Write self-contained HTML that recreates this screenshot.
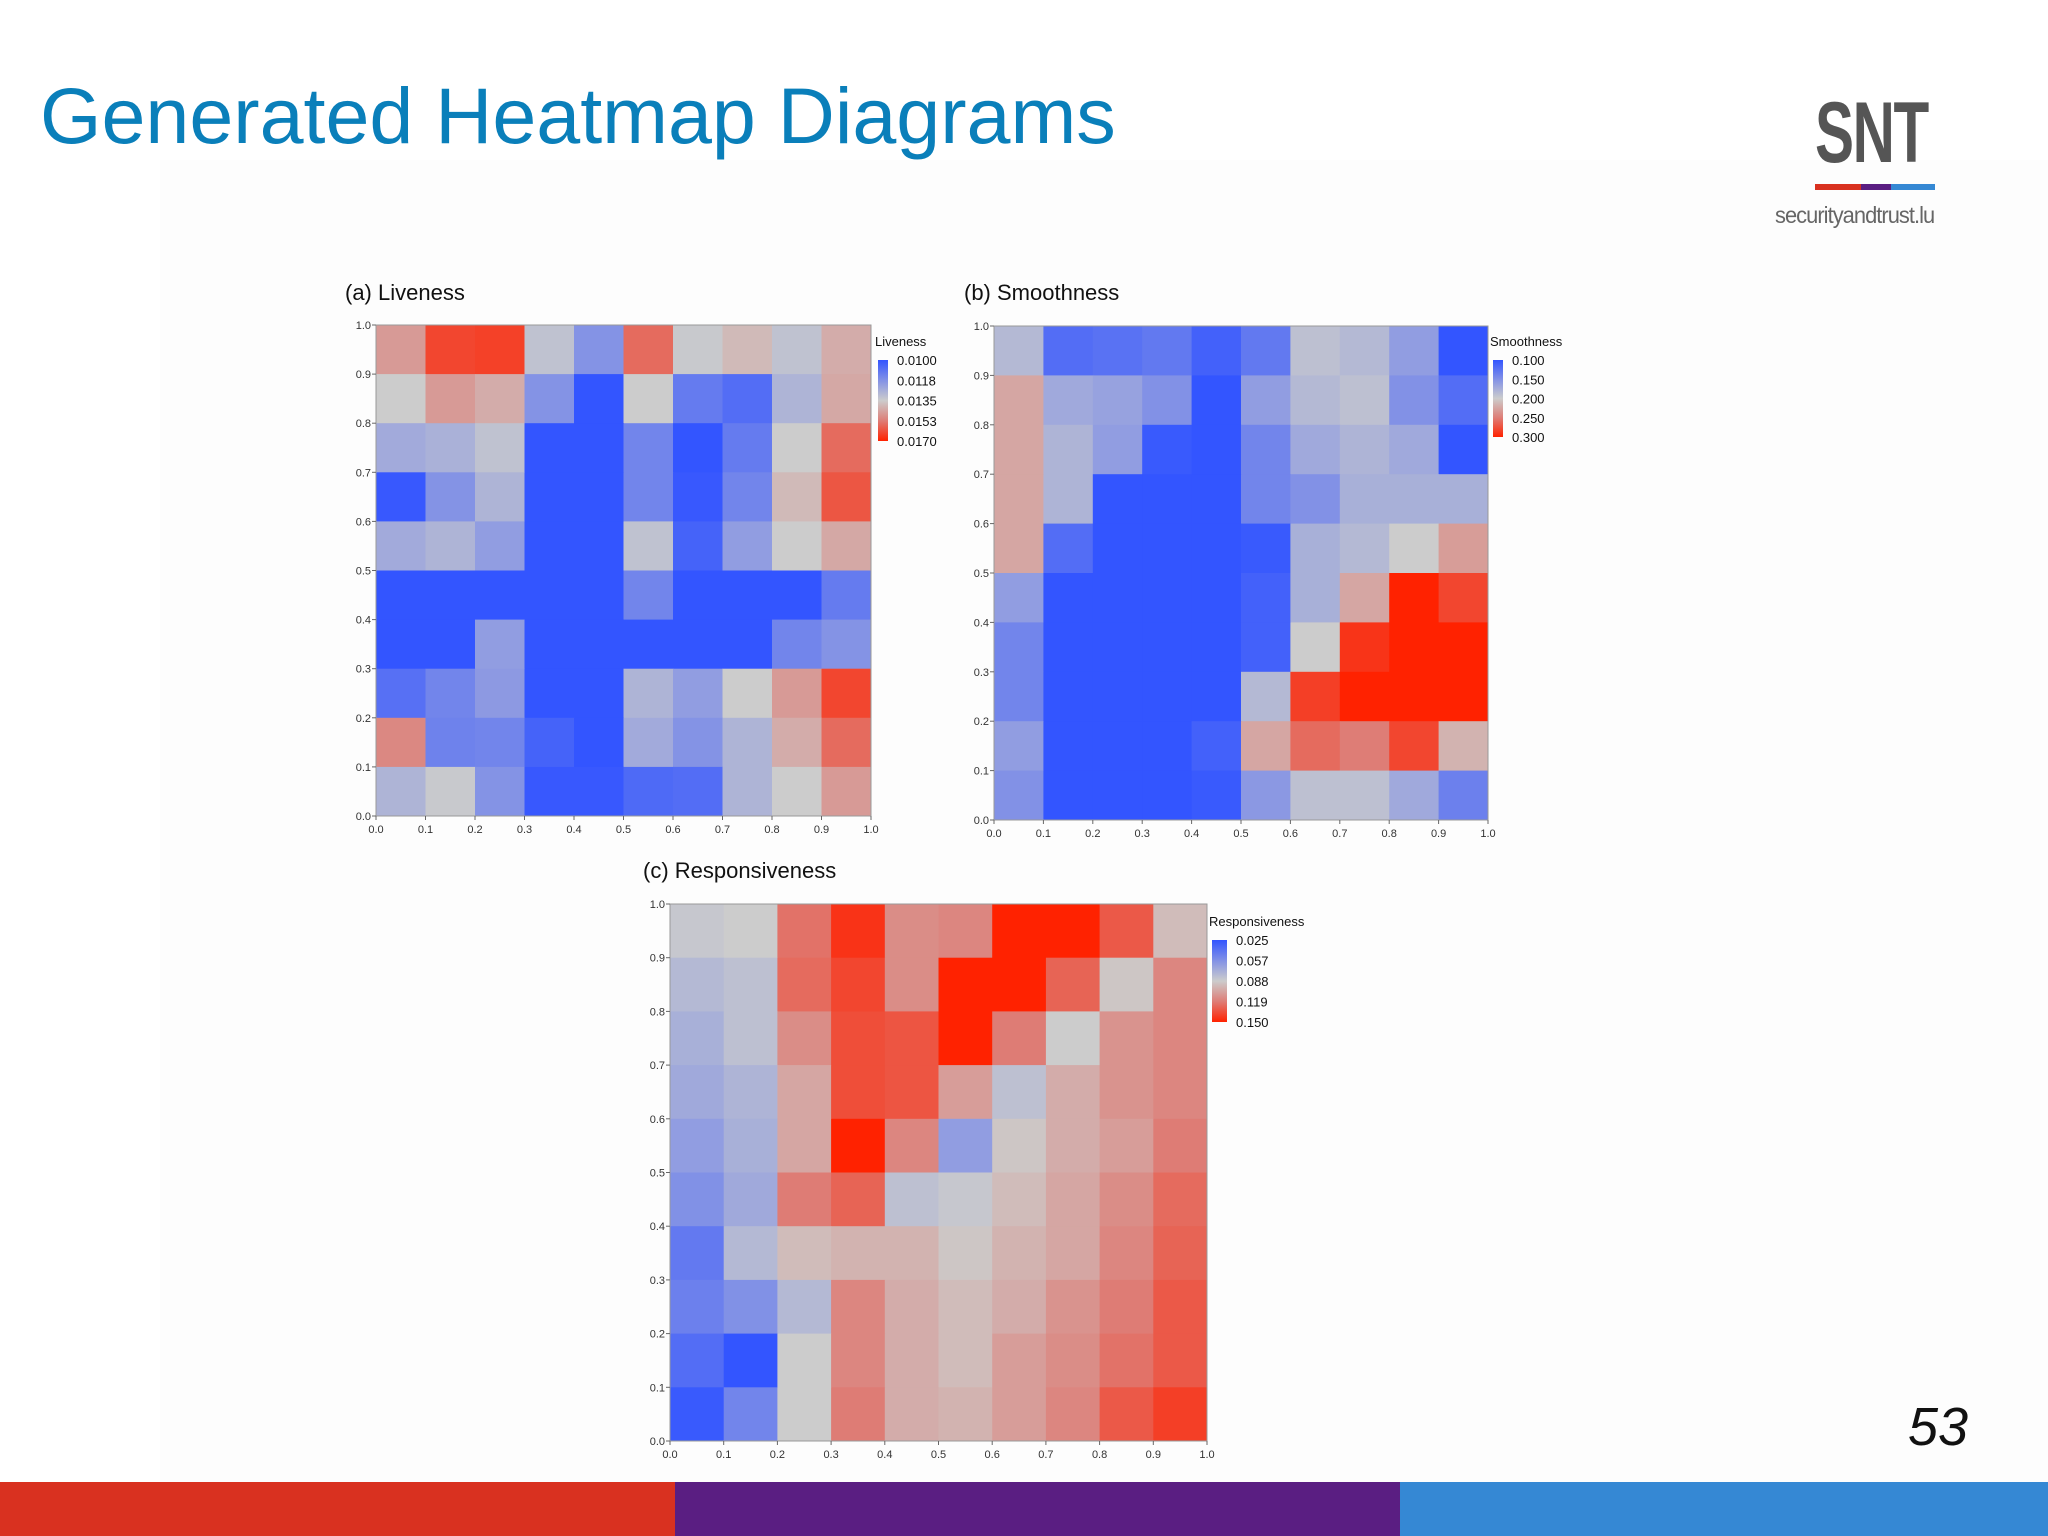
<!DOCTYPE html>
<html><head><meta charset="utf-8">
<style>
html,body{margin:0;padding:0;}
body{width:2048px;height:1536px;position:relative;background:#fff;overflow:hidden;font-family:"Liberation Sans",sans-serif;}
.t{position:absolute;white-space:nowrap;}
</style></head>
<body>
<div style="position:absolute;left:160px;top:160px;width:1888px;height:1322px;background:#fdfdfd"></div>
<div class="t" style="left:40px;top:70px;font-size:79px;color:#0a7fba;">Generated Heatmap Diagrams</div>
<div style="position:absolute;left:1775px;top:84px;width:210px;height:150px;">
 <div class="t" style="left:40px;top:0;font-size:86px;font-weight:bold;color:#555;letter-spacing:-2px;transform:scaleX(0.68);transform-origin:left top;">SNT</div>
 <div style="position:absolute;left:40px;top:100px;width:46px;height:6px;background:#d93120"></div>
 <div style="position:absolute;left:86px;top:100px;width:30px;height:6px;background:#5a1e82"></div>
 <div style="position:absolute;left:116px;top:100px;width:44px;height:6px;background:#3588d4"></div>
 <div class="t" style="left:0;top:118px;font-size:23px;color:#666;letter-spacing:-1px;transform:scaleX(0.95);transform-origin:left top;">securityandtrust.lu</div>
</div>
<div class="t" style="left:1908px;top:1396px;font-size:54px;font-style:italic;color:#111;">53</div>
<div style="position:absolute;left:0;top:1482px;width:675px;height:54px;background:#d93120"></div>
<div style="position:absolute;left:675px;top:1482px;width:725px;height:54px;background:#5a1e82"></div>
<div style="position:absolute;left:1400px;top:1482px;width:648px;height:54px;background:#3588d4"></div>

<svg id="chart" width="2048" height="1536" style="position:absolute;left:0;top:0" xmlns="http://www.w3.org/2000/svg">
 <defs>
  <linearGradient id="cbar" x1="0" y1="0" x2="0" y2="1">
   <stop offset="0" stop-color="rgb(51,85,255)"/><stop offset="0.25" stop-color="rgb(130,145,230)"/><stop offset="0.5" stop-color="rgb(204,204,204)"/><stop offset="0.75" stop-color="rgb(222,125,118)"/><stop offset="1" stop-color="rgb(255,34,0)"/>
  </linearGradient>
 </defs>
</svg>
<script>
const axisTicks = [0.0,0.1,0.2,0.3,0.4,0.5,0.6,0.7,0.8,0.9,1.0];
const livenessTicks = ["0.0100","0.0118","0.0135","0.0153","0.0170"];
const smoothTicks = ["0.100","0.150","0.200","0.250","0.300"];
const respTicks = ["0.025","0.057","0.088","0.119","0.150"];
// rows from top (y 0.9-1.0) to bottom (y 0.0-0.1)
const liveness = [
[.0146,.0163,.0164,.0132,.0118,.0156,.0134,.0139,.0132,.0142],
[.0135,.0146,.0142,.0118,.0100,.0135,.0111,.0107,.0128,.0143],
[.0125,.0127,.0132,.0100,.0100,.0114,.0100,.0111,.0135,.0156],
[.0101,.0118,.0128,.0100,.0100,.0114,.0101,.0114,.0139,.0160],
[.0125,.0128,.0121,.0100,.0100,.0132,.0104,.0121,.0135,.0143],
[.0100,.0100,.0100,.0100,.0100,.0114,.0100,.0100,.0100,.0111],
[.0100,.0100,.0121,.0100,.0100,.0100,.0100,.0100,.0114,.0118],
[.0108,.0114,.0120,.0100,.0100,.0128,.0121,.0135,.0146,.0163],
[.0150,.0113,.0114,.0104,.0100,.0125,.0118,.0128,.0142,.0156],
[.0128,.0134,.0118,.0101,.0101,.0106,.0107,.0128,.0135,.0146]];
const smoothness = [
[.184,.120,.124,.130,.110,.130,.190,.184,.160,.100],
[.224,.170,.164,.150,.100,.160,.184,.190,.150,.120],
[.224,.180,.160,.104,.100,.140,.170,.180,.170,.100],
[.224,.180,.100,.100,.100,.140,.150,.176,.176,.176],
[.224,.120,.100,.100,.100,.104,.176,.184,.200,.230],
[.160,.100,.100,.100,.100,.110,.176,.224,.300,.280],
[.140,.100,.100,.100,.100,.110,.200,.290,.300,.300],
[.140,.100,.100,.100,.100,.184,.284,.300,.300,.300],
[.160,.100,.100,.100,.110,.224,.260,.250,.280,.216],
[.150,.100,.100,.100,.104,.156,.190,.190,.170,.136]];
const responsiveness = [
[.085,.0875,.1225,.144,.1125,.115,.150,.150,.131,.094],
[.0775,.081,.125,.1375,.1125,.150,.150,.1275,.090,.115],
[.0725,.081,.1125,.135,.1325,.150,.119,.0875,.110,.115],
[.069,.075,.1025,.135,.1325,.106,.081,.100,.110,.115],
[.0625,.0725,.1025,.150,.115,.0625,.090,.100,.106,.119],
[.056,.069,.119,.1275,.081,.085,.094,.1025,.1125,.125],
[.044,.0775,.094,.0975,.0975,.090,.0975,.1025,.115,.1275],
[.0475,.056,.0775,.115,.100,.094,.100,.110,.119,.131],
[.0375,.025,.0875,.115,.100,.094,.106,.1125,.1225,.131],
[.0275,.050,.0875,.119,.100,.0975,.106,.115,.131,.140]];

const NS="http://www.w3.org/2000/svg";
const svg=document.getElementById('chart');
function mk(tag,attrs,parent){const e=document.createElementNS(NS,tag);for(const k in attrs)e.setAttribute(k,attrs[k]);(parent||svg).appendChild(e);return e;}
const stops=[[51,85,255],[130,145,230],[204,204,204],[222,125,118],[255,34,0]];
function color(t){t=Math.max(0,Math.min(1,t));const s=t*4;const i=Math.min(3,Math.floor(s));const u=s-i;
 const a=stops[i],b=stops[i+1];
 return 'rgb('+a.map((v,k)=>Math.round(v+(b[k]-v)*u)).join(',')+')';}

function heatmap(cfg){
 const g=mk('g',{});
 
 
 const xS=v=>cfg.x0+v*(cfg.x1-cfg.x0);
 const yS=v=>cfg.y1-v*(cfg.y1-cfg.y0);
 const cS=v=>(v-cfg.min)/(cfg.max-cfg.min);
 const n=cfg.data.length;
 cfg.data.forEach((row,r)=>row.forEach((v,c)=>{
  const yTop=1-r/n, yBot=1-(r+1)/n;
  const rc=mk('rect',{x:xS(c/row.length),y:yS(yTop),width:xS((c+1)/row.length)-xS(c/row.length)+0.5,height:yS(yBot)-yS(yTop)+0.5,fill:color(cS(v))},g);
  
  
 }));
 const fr=mk('rect',{x:cfg.x0,y:cfg.y0,width:cfg.x1-cfg.x0,height:cfg.y1-cfg.y0,fill:'none',stroke:'#999','stroke-width':1},g);
 
 
 axisTicks.forEach(t=>{
  mk('line',{x1:xS(t),x2:xS(t),y1:cfg.y1,y2:cfg.y1+4,stroke:'#666'},g);
  const xl=mk('text',{x:xS(t),y:cfg.y1+17,'font-size':11,'text-anchor':'middle',fill:'#333'},g);
  xl.textContent=t.toFixed(1);
  
  
  mk('line',{x1:cfg.x0-4,x2:cfg.x0,y1:yS(t),y2:yS(t),stroke:'#666'},g);
  const yl=mk('text',{x:cfg.x0-5,y:yS(t)+4,'font-size':11,'text-anchor':'end',fill:'#333'},g);
  yl.textContent=t.toFixed(1);
  
  
 });
 const ti=mk('text',{x:cfg.tx,y:cfg.ty,'font-size':22,fill:'#111'},g);
 ti.textContent=cfg.title;
 
 
 const lt=mk('text',{x:cfg.lx-3,y:cfg.ly0-14,'font-size':13,fill:'#111'},g);
 lt.textContent=cfg.legendTitle;
 
 
 const cb=mk('rect',{x:cfg.lx,y:cfg.ly0,width:cfg.lw,height:cfg.ly1-cfg.ly0,fill:'url(#cbar)'},g);
 
 
 cfg.ticks.forEach((s,i)=>{
  const y=cfg.ly0+i*(cfg.ly1-cfg.ly0)/(cfg.ticks.length-1);
  const tl=mk('text',{x:cfg.lx+cfg.lw+9,y:y+5,'font-size':13,fill:'#111'},g);
  tl.textContent=s;
  
  
 });
}
heatmap({name:'liveness-heatmap',data:liveness,min:0.0100,max:0.0170,x0:376,x1:871,y0:325,y1:816,tx:345,ty:300,title:'(a) Liveness',legendTitle:'Liveness',lx:878,lw:10,ly0:360,ly1:441,ticks:livenessTicks});
heatmap({name:'smoothness-heatmap',data:smoothness,min:0.100,max:0.300,x0:994,x1:1488,y0:326,y1:820,tx:964,ty:300,title:'(b) Smoothness',legendTitle:'Smoothness',lx:1493,lw:10,ly0:360,ly1:437,ticks:smoothTicks});
heatmap({name:'responsiveness-heatmap',data:responsiveness,min:0.025,max:0.150,x0:670,x1:1207,y0:904,y1:1441,tx:643,ty:878,title:'(c) Responsiveness',legendTitle:'Responsiveness',lx:1212,lw:15,ly0:940,ly1:1022,ticks:respTicks});
</script>
</body></html>
